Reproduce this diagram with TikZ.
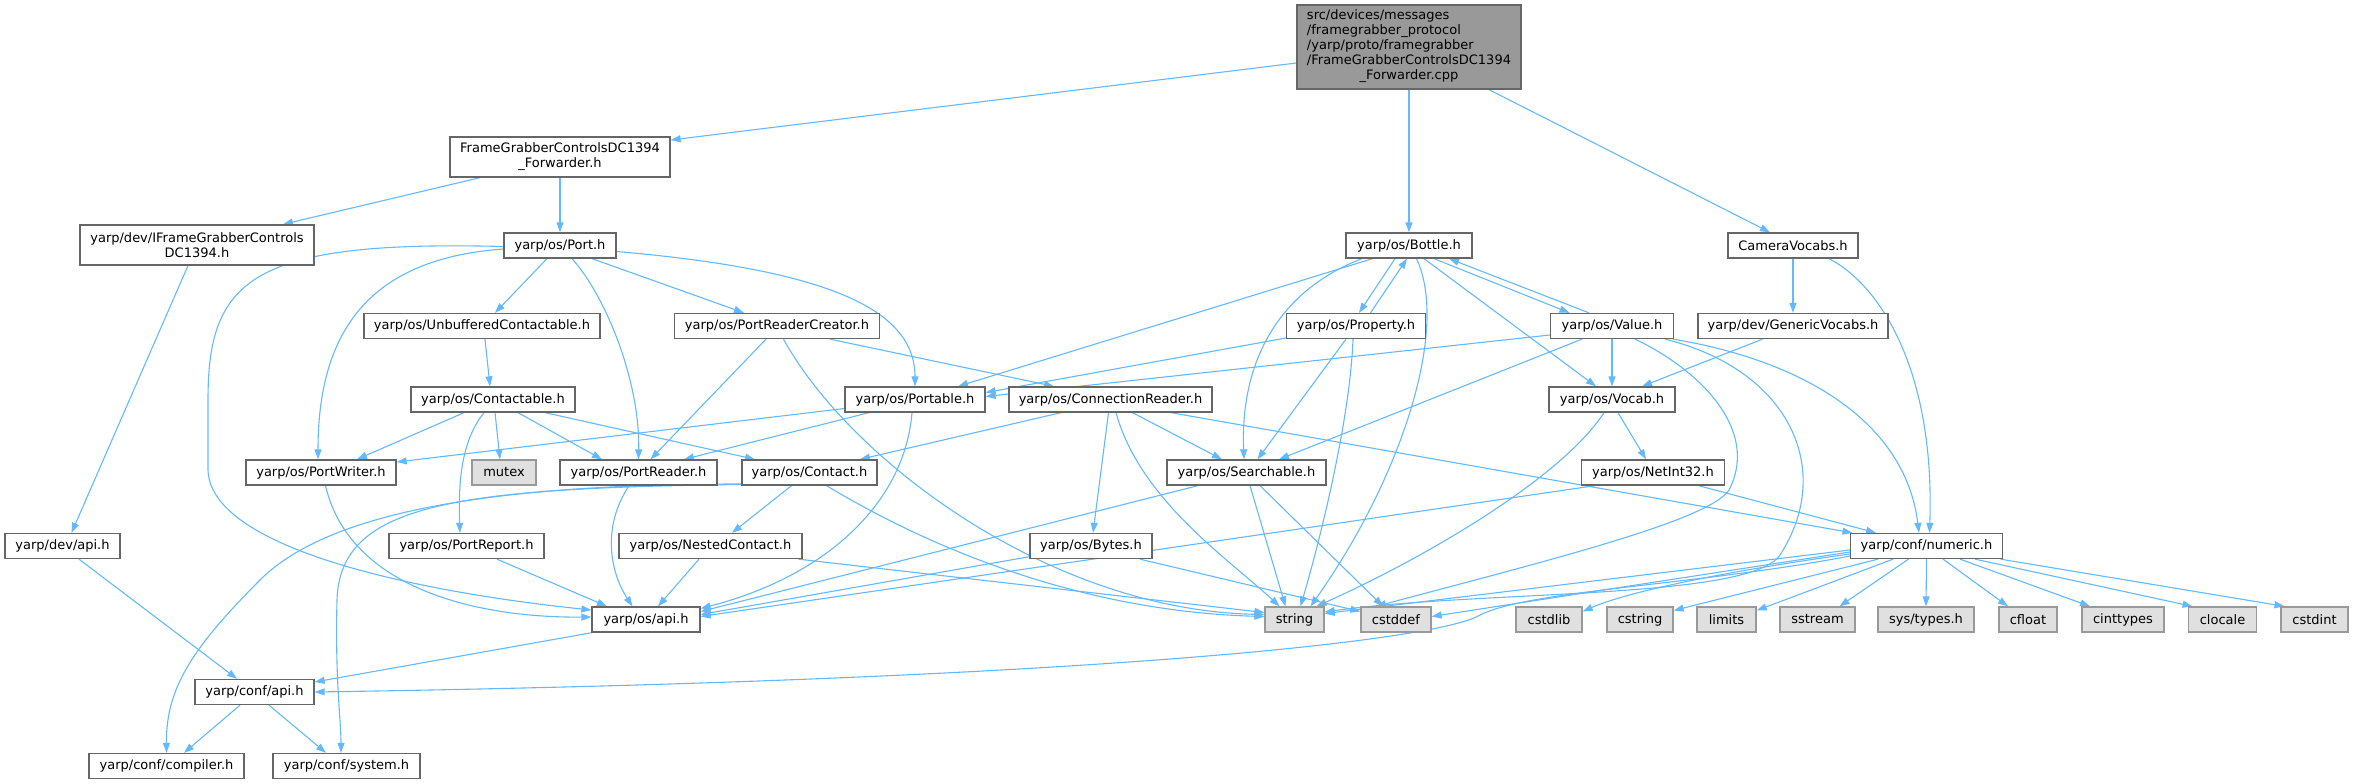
\documentclass[tikz,border=0pt]{standalone}
\usepackage{fontspec}
\setmainfont{DejaVu Sans}
\usetikzlibrary{arrows.meta,calc}
\definecolor{edgec}{HTML}{63B8FF}
\definecolor{bordc}{HTML}{666666}
\definecolor{sysfill}{HTML}{E0E0E0}
\definecolor{sysbord}{HTML}{999999}
\definecolor{rootfill}{HTML}{999999}
\pgfdeclarelayer{bg}
\pgfsetlayers{bg,main}
\begin{document}
\begin{tikzpicture}[x=1pt,y=-1pt,
 nd/.style={draw=bordc, fill=white, line width=1.3pt, minimum height=25pt, inner sep=0pt,
   font=\fontsize{13}{15}\selectfont, align=center},
 sys/.style={nd, draw=sysbord, fill=sysfill},
 ed/.style={draw=edgec, line width=1.1pt, -{Triangle[length=10pt,width=7pt]}},
 wd/.style={minimum width=#1pt}]
\useasboundingbox (0,0) rectangle (2353,784);
% nodes
\node[nd, fill=rootfill, wd=224, minimum height=84pt] (root) at (1409,47)
 {\begin{tabular}{@{}l@{}}src/devices/messages\\/framegrabber\_protocol\\/yarp/proto/framegrabber\\/FrameGrabberControlsDC1394\\\multicolumn{1}{@{}c@{}}{\_Forwarder.cpp}\end{tabular}};
\node[nd, wd=220, minimum height=40pt] (fgcf) at (560,157) {FrameGrabberControlsDC1394\\\_Forwarder.h};
\node[nd, wd=234, minimum height=40pt] (ifgc) at (197,245) {yarp/dev/IFrameGrabberControls\\DC1394.h};
\node[nd, wd=112] (port) at (560,245.5) {yarp/os/Port.h};
\node[nd, wd=126] (bottle) at (1409,245.5) {yarp/os/Bottle.h};
\node[nd, wd=130] (camera) at (1793,245.5) {CameraVocabs.h};
\node[nd, wd=236] (unbuf) at (482,326) {yarp/os/UnbufferedContactable.h};
\node[nd, wd=205] (prc) at (777,326) {yarp/os/PortReaderCreator.h};
\node[nd, wd=139] (property) at (1356,326) {yarp/os/Property.h};
\node[nd, wd=123] (value) at (1612,326) {yarp/os/Value.h};
\node[nd, wd=190] (generic) at (1793,326) {yarp/dev/GenericVocabs.h};
\node[nd, wd=164] (contactable) at (493,399.5) {yarp/os/Contactable.h};
\node[nd, wd=140] (portable) at (915,399.5) {yarp/os/Portable.h};
\node[nd, wd=203] (connreader) at (1110.5,399.5) {yarp/os/ConnectionReader.h};
\node[nd, wd=126] (vocab) at (1612,399.5) {yarp/os/Vocab.h};
\node[nd, wd=150] (portwriter) at (321,472.5) {yarp/os/PortWriter.h};
\node[sys, wd=64] (mutex) at (504,472.5) {mutex};
\node[nd, wd=157] (portreader) at (638.5,472.5) {yarp/os/PortReader.h};
\node[nd, wd=135] (contact) at (809.5,472.5) {yarp/os/Contact.h};
\node[nd, wd=159] (searchable) at (1246.5,472.5) {yarp/os/Searchable.h};
\node[nd, wd=143] (netint) at (1653,472.5) {yarp/os/NetInt32.h};
\node[nd, wd=115] (devapi) at (62.5,546) {yarp/dev/api.h};
\node[nd, wd=155] (portreport) at (466.5,546) {yarp/os/PortReport.h};
\node[nd, wd=183] (nested) at (710.5,546) {yarp/os/NestedContact.h};
\node[nd, wd=122] (bytes) at (1091,546) {yarp/os/Bytes.h};
\node[nd, wd=152] (numeric) at (1926.5,546) {yarp/conf/numeric.h};
\node[nd, wd=108] (osapi) at (646,619.5) {yarp/os/api.h};
\node[sys, wd=59] (string) at (1294.5,619.5) {string};
\node[sys, wd=70] (cstddef) at (1396,619.5) {cstddef};
\node[sys, wd=66] (cstdlib) at (1549,619.5) {cstdlib};
\node[sys, wd=66] (cstring) at (1640,619.5) {cstring};
\node[sys, wd=59] (limits) at (1726.5,619.5) {limits};
\node[sys, wd=75] (sstream) at (1817.5,619.5) {sstream};
\node[sys, wd=96] (systypes) at (1926,619.5) {sys/types.h};
\node[sys, wd=58] (cfloat) at (2028,619.5) {cfloat};
\node[sys, wd=82] (cinttypes) at (2123,619.5) {cinttypes};
\node[sys, wd=68] (clocale) at (2222.5,619.5) {clocale};
\node[sys, wd=67] (cstdint) at (2314.5,619.5) {cstdint};
\node[nd, wd=119] (confapi) at (254.5,692) {yarp/conf/api.h};
\node[nd, wd=155] (compiler) at (166.5,766) {yarp/conf/compiler.h};
\node[nd, wd=147] (system) at (346.5,766) {yarp/conf/system.h};
% edges
\begin{pgfonlayer}{bg}
\draw[ed] ([yshift=-16pt]root.west) -- ([yshift=17pt]fgcf.east);
\draw[ed] (root.south) -- (bottle.north);
\draw[ed] ([xshift=80pt]root.south) -- ([xshift=-23pt]camera.north);
\draw[ed] ([xshift=-80pt]fgcf.south) -- ([xshift=86pt]ifgc.north);
\draw[ed] (fgcf.south) -- (port.north);
\draw[ed] ([xshift=-9pt]ifgc.south) -- ([xshift=9pt]devapi.north);
\draw[ed] ([xshift=16.5pt]devapi.south) -- ([xshift=-17.5pt]confapi.north);
\draw[ed] ([xshift=-13pt]port.south) -- ([xshift=13pt]unbuf.north);
\draw[ed] ([xshift=32pt]port.south) -- ([xshift=-33pt]prc.north);
\draw[ed] ([xshift=12pt]port.south) .. controls (605,295) and (640,380) .. (portreader.north);
\draw[ed] ([yshift=-3.5pt]port.west) .. controls (380,258) and (318,320) .. ([xshift=-3pt]portwriter.north);
\draw[ed] ([yshift=-1pt]port.west) .. controls (250,240) and (208,280) .. (208,400) -- (208,470) .. controls (210,545) and (400,590) .. ([yshift=9.5pt]osapi.west);
\draw[ed] ([yshift=-6pt]port.east) .. controls (830,270) and (915,310) .. (portable.north);
\draw[ed] ([xshift=3pt]unbuf.south) -- ([xshift=-3pt]contactable.north);
\draw[ed] ([xshift=-29pt]contactable.south) -- ([xshift=36pt]portwriter.north);
\draw[ed] ([xshift=2pt]contactable.south) -- ([xshift=-4pt]mutex.north);
\draw[ed] ([xshift=25pt]contactable.south) -- ([xshift=-36.5pt]portreader.north);
\draw[ed] ([xshift=52pt]contactable.south) -- ([xshift=-54.5pt]contact.north);
\draw[ed] ([xshift=-9pt]contactable.south) .. controls (462,440) and (458,480) .. ([xshift=-6.5pt]portreport.north);
\draw[ed] ([xshift=-11pt]prc.south) -- ([xshift=12pt]portreader.north);
\draw[ed] ([xshift=53pt]prc.south) -- ([xshift=-56.5pt]connreader.north);
\draw[ed] ([xshift=6.5pt]prc.south) .. controls (850,460) and (1050,610) .. ([yshift=5pt]string.west);
\draw[ed] ([xshift=4.5pt]portwriter.south) .. controls (350,590) and (480,618) .. ([yshift=2.5pt]osapi.west);
\draw[ed] ([xshift=-9.5pt]portreader.south) .. controls (600,530) and (612,575) .. ([xshift=-13.5pt]osapi.north);
\draw[ed] ([xshift=-18pt]contact.south) -- ([xshift=21.5pt]nested.north);
\draw[ed] ([xshift=17pt]contact.south) .. controls (950,560) and (1100,612) .. ([yshift=3pt]string.west);
\draw[ed] ([yshift=-11.5pt]contact.west) .. controls (500,484) and (330,510) .. (260,580) .. controls (190,650) and (166,690) .. (compiler.north);
\draw[ed] ([yshift=-12pt]contact.west) .. controls (450,488) and (340,505) .. (337,600) .. controls (335,680) and (341,720) .. ([xshift=-5.5pt]system.north);
\draw[ed] ([xshift=30.5pt]portreport.south) -- ([xshift=-39pt]osapi.north);
\draw[ed] ([xshift=-11.5pt]nested.south) -- ([xshift=12pt]osapi.north);
\draw[ed] ([xshift=88pt]nested.south) -- ([yshift=7pt]string.west);
\draw[ed] ([xshift=-54pt]osapi.south) -- ([yshift=10pt]confapi.east);
\draw[ed] ([xshift=-14.5pt]confapi.south) -- ([xshift=17.5pt]compiler.north);
\draw[ed] ([xshift=14.5pt]confapi.south) -- ([xshift=-20.5pt]system.north);
\draw[ed] ([yshift=-9pt]portable.west) -- ([yshift=10.5pt]portwriter.east);
\draw[ed] ([xshift=-46pt]portable.south) -- ([xshift=45.5pt]portreader.north);
\draw[ed] ([xshift=-3pt]portable.south) .. controls (905,500) and (830,575) .. ([yshift=11pt]osapi.east);
\draw[ed] ([xshift=-49.5pt]connreader.south) -- ([xshift=50.5pt]contact.north);
\draw[ed] ([xshift=22pt]connreader.south) -- ([xshift=-24.5pt]searchable.north);
\draw[ed] ([xshift=-2pt]connreader.south) -- ([xshift=2pt]bytes.north);
\draw[ed] ([xshift=5.5pt]connreader.south) .. controls (1140,500) and (1230,560) .. ([xshift=-15pt]string.north);
\draw[ed] ([xshift=60.5pt]connreader.south) -- ([xshift=-74pt]numeric.north);
\draw[ed] ([xshift=-48.5pt]searchable.south) -- ([yshift=8pt]osapi.east);
\draw[ed] ([xshift=3.5pt]searchable.south) -- ([xshift=-9pt]string.north);
\draw[ed] ([xshift=13.5pt]searchable.south) -- ([xshift=-13pt]cstddef.north);
\draw[ed] ([yshift=-10.7pt]bytes.west) -- ([yshift=5pt]osapi.east);
\draw[ed] ([xshift=49pt]bytes.south) -- ([yshift=8pt]cstddef.west);
\draw[ed] ([xshift=-36.5pt]bottle.south) -- ([xshift=43pt]portable.north);
\draw[ed] ([xshift=-47pt]bottle.south) .. controls (1280,290) and (1240,360) .. ([xshift=-2.5pt]searchable.north);
\draw[ed] ([xshift=-14pt]bottle.south) -- ([xshift=3pt]property.north);
\draw[ed] ([xshift=14.5pt]property.north) -- ([xshift=-2pt]bottle.south);
\draw[ed] ([xshift=7.5pt]bottle.south) .. controls (1450,330) and (1400,480) .. ([xshift=16pt]string.north);
\draw[ed] ([xshift=15pt]bottle.south) -- ([xshift=-16pt]vocab.north);
\draw[ed] ([xshift=25pt]bottle.south) -- ([xshift=-42.5pt]value.north);
\draw[ed] ([xshift=-23pt]value.north) -- ([xshift=40pt]bottle.south);
\draw[ed] ([yshift=-12pt]property.west) -- ([yshift=7pt]portable.east);
\draw[ed] ([xshift=-10pt]property.south) -- ([xshift=11pt]searchable.north);
\draw[ed] ([xshift=-3pt]property.south) .. controls (1350,420) and (1320,540) .. ([xshift=6pt]string.north);
\draw[ed] ([yshift=-9pt]value.west) -- ([yshift=3pt]portable.east);
\draw[ed] ([xshift=-30pt]value.south) -- ([xshift=32.5pt]searchable.north);
\draw[ed] (value.south) -- (vocab.north);
\draw[ed] ([xshift=23pt]value.south) .. controls (1700,370) and (1760,430) .. (1729,490) .. controls (1710,520) and (1550,560) .. ([xshift=-20pt]cstddef.north);
\draw[ed] ([xshift=53pt]value.south) .. controls (1790,370) and (1835,470) .. (1780,555) .. controls (1750,600) and (1480,590) .. ([yshift=7.5pt]string.east);
\draw[ed] ([xshift=61pt]value.south) .. controls (1800,360) and (1905,420) .. ([xshift=-7.5pt]numeric.north);
\draw[ed] ([xshift=36pt]camera.south) .. controls (1880,285) and (1935,370) .. ([xshift=3pt]numeric.north);
\draw[ed] (camera.south) -- (generic.north);
\draw[ed] ([xshift=-30.5pt]generic.south) -- ([xshift=30pt]vocab.north);
\draw[ed] ([xshift=6pt]vocab.south) -- ([xshift=-7pt]netint.north);
\draw[ed] ([xshift=-8pt]vocab.south) .. controls (1560,480) and (1420,560) .. ([xshift=22pt]string.north);
\draw[ed] ([xshift=45.5pt]netint.south) -- ([xshift=-50.5pt]numeric.north);
\draw[ed] ([xshift=-58pt]netint.south) -- ([yshift=3pt]osapi.east);
\draw[ed] ([yshift=-10pt]numeric.west) .. controls (1700,585) and (1530,590) .. (1480,615) .. controls (1440,640) and (1100,680) .. (confapi.east);
\draw[ed] ([yshift=-4pt]numeric.west) -- ([yshift=6pt]string.east);
\draw[ed] ([yshift=-6pt]numeric.west) -- ([yshift=3pt]cstddef.east);
\draw[ed] ([yshift=-8pt]numeric.west) .. controls (1700,575) and (1620,595) .. ([yshift=8pt]cstdlib.east);
\draw[ed] ([xshift=-48.5pt]numeric.south) -- ([yshift=9pt]cstring.east);
\draw[ed] ([xshift=-33.5pt]numeric.south) -- ([yshift=9pt]limits.east);
\draw[ed] ([xshift=-18pt]numeric.south) -- ([xshift=22pt]sstream.north);
\draw[ed] (numeric.south) -- (systypes.north);
\draw[ed] ([xshift=16.5pt]numeric.south) -- ([xshift=-20pt]cfloat.north);
\draw[ed] ([xshift=33.5pt]numeric.south) -- ([xshift=-33pt]cinttypes.north);
\draw[ed] ([xshift=48.5pt]numeric.south) -- ([xshift=-30pt]clocale.north);
\draw[ed] ([xshift=74pt]numeric.south) -- ([xshift=-30pt]cstdint.north);
\end{pgfonlayer}
\end{tikzpicture}
\end{document}
